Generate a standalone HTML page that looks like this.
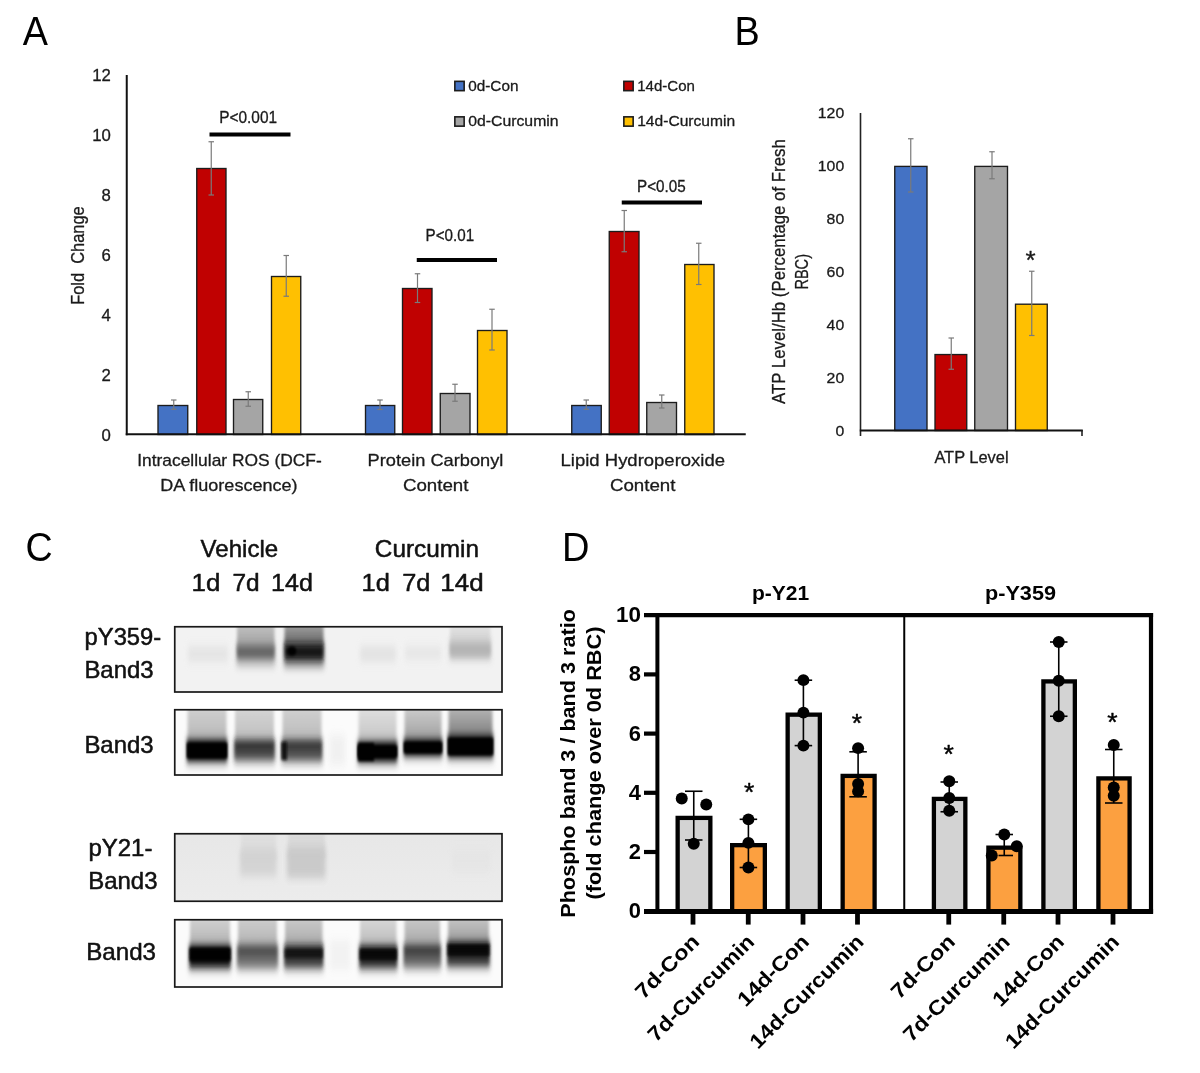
<!DOCTYPE html>
<html><head><meta charset="utf-8"><title>Figure</title>
<style>html,body{margin:0;padding:0;background:#fff;overflow:hidden;}svg{position:absolute;left:0;top:0;display:block;font-family:"Liberation Sans", sans-serif;}</style>
</head><body>
<svg width="1200" height="1073" viewBox="0 0 1200 1073">
<defs>
<filter id="b2" x="-40%" y="-80%" width="180%" height="260%"><feGaussianBlur stdDeviation="1.3 1.6"/></filter>
<filter id="b3" x="-40%" y="-80%" width="180%" height="260%"><feGaussianBlur stdDeviation="1.4 3"/></filter>
<filter id="b4" x="-40%" y="-80%" width="180%" height="260%"><feGaussianBlur stdDeviation="2 4"/></filter>
<linearGradient id="g0" x1="0" y1="0" x2="0" y2="1"><stop offset="0" stop-color="#c4c4c4" stop-opacity="1"/><stop offset="1" stop-color="#9c9c9c" stop-opacity="1"/></linearGradient>
<linearGradient id="g1" x1="0" y1="0" x2="0" y2="1"><stop offset="0" stop-color="#a6a6a6" stop-opacity="1"/><stop offset="1" stop-color="#5e5e5e" stop-opacity="1"/></linearGradient>
<linearGradient id="g2" x1="0" y1="0" x2="0" y2="1"><stop offset="0" stop-color="#e2e2e2" stop-opacity="1"/><stop offset="1" stop-color="#d0d0d0" stop-opacity="1"/></linearGradient>
<linearGradient id="g3" x1="0" y1="0" x2="0" y2="1"><stop offset="0" stop-color="#d2d2d2" stop-opacity="1"/><stop offset="1" stop-color="#b4b4b4" stop-opacity="1"/></linearGradient>
<linearGradient id="g4" x1="0" y1="0" x2="0" y2="1"><stop offset="0" stop-color="#242424" stop-opacity="1"/><stop offset="1" stop-color="#5c5c5c" stop-opacity="1"/></linearGradient>
<linearGradient id="g5" x1="0" y1="0" x2="0" y2="1"><stop offset="0" stop-color="#d6d6d6" stop-opacity="1"/><stop offset="1" stop-color="#bcbcbc" stop-opacity="1"/></linearGradient>
<linearGradient id="g6" x1="0" y1="0" x2="0" y2="1"><stop offset="0" stop-color="#2a2a2a" stop-opacity="1"/><stop offset="1" stop-color="#626262" stop-opacity="1"/></linearGradient>
<linearGradient id="g7" x1="0" y1="0" x2="0" y2="1"><stop offset="0" stop-color="#d2d2d2" stop-opacity="1"/><stop offset="1" stop-color="#b8b8b8" stop-opacity="1"/></linearGradient>
<linearGradient id="g8" x1="0" y1="0" x2="0" y2="1"><stop offset="0" stop-color="#e2e2e2" stop-opacity="1"/><stop offset="1" stop-color="#c0c0c0" stop-opacity="1"/></linearGradient>
<linearGradient id="g9" x1="0" y1="0" x2="0" y2="1"><stop offset="0" stop-color="#cfcfcf" stop-opacity="1"/><stop offset="1" stop-color="#9c9c9c" stop-opacity="1"/></linearGradient>
<linearGradient id="g10" x1="0" y1="0" x2="0" y2="1"><stop offset="0" stop-color="#b8b8b8" stop-opacity="1"/><stop offset="1" stop-color="#7c7c7c" stop-opacity="1"/></linearGradient>
<linearGradient id="g11" x1="0" y1="0" x2="0" y2="1"><stop offset="0" stop-color="#e0e0e0" stop-opacity="1"/><stop offset="1" stop-color="#d6d6d6" stop-opacity="1"/></linearGradient>
<linearGradient id="g12" x1="0" y1="0" x2="0" y2="1"><stop offset="0" stop-color="#dcdcdc" stop-opacity="1"/><stop offset="1" stop-color="#d0d0d0" stop-opacity="1"/></linearGradient>
<linearGradient id="g13" x1="0" y1="0" x2="0" y2="1"><stop offset="0" stop-color="#e7e7e7" stop-opacity="1"/><stop offset="1" stop-color="#ececec" stop-opacity="1"/></linearGradient>
<linearGradient id="g14" x1="0" y1="0" x2="0" y2="1"><stop offset="0" stop-color="#000" stop-opacity="1"/><stop offset="1" stop-color="#1e1e1e" stop-opacity="1"/></linearGradient>
<linearGradient id="g15" x1="0" y1="0" x2="0" y2="1"><stop offset="0" stop-color="#d4d4d4" stop-opacity="1"/><stop offset="1" stop-color="#b0b0b0" stop-opacity="1"/></linearGradient>
<linearGradient id="g16" x1="0" y1="0" x2="0" y2="1"><stop offset="0" stop-color="#3c3c3c" stop-opacity="1"/><stop offset="1" stop-color="#848484" stop-opacity="1"/></linearGradient>
<linearGradient id="g17" x1="0" y1="0" x2="0" y2="1"><stop offset="0" stop-color="#d0d0d0" stop-opacity="1"/><stop offset="1" stop-color="#b0b0b0" stop-opacity="1"/></linearGradient>
<linearGradient id="g18" x1="0" y1="0" x2="0" y2="1"><stop offset="0" stop-color="#141414" stop-opacity="1"/><stop offset="1" stop-color="#4a4a4a" stop-opacity="1"/></linearGradient>
<linearGradient id="g19" x1="0" y1="0" x2="0" y2="1"><stop offset="0" stop-color="#cccccc" stop-opacity="1"/><stop offset="1" stop-color="#a8a8a8" stop-opacity="1"/></linearGradient>
<linearGradient id="g20" x1="0" y1="0" x2="0" y2="1"><stop offset="0" stop-color="#080808" stop-opacity="1"/><stop offset="1" stop-color="#3a3a3a" stop-opacity="1"/></linearGradient>
<linearGradient id="g21" x1="0" y1="0" x2="0" y2="1"><stop offset="0" stop-color="#dadada" stop-opacity="1"/><stop offset="1" stop-color="#b8b8b8" stop-opacity="1"/></linearGradient>
<linearGradient id="g22" x1="0" y1="0" x2="0" y2="1"><stop offset="0" stop-color="#2a2a2a" stop-opacity="1"/><stop offset="1" stop-color="#7c7c7c" stop-opacity="1"/></linearGradient>
<linearGradient id="g23" x1="0" y1="0" x2="0" y2="1"><stop offset="0" stop-color="#cccccc" stop-opacity="1"/><stop offset="1" stop-color="#a4a4a4" stop-opacity="1"/></linearGradient>
<linearGradient id="g24" x1="0" y1="0" x2="0" y2="1"><stop offset="0" stop-color="#060606" stop-opacity="1"/><stop offset="1" stop-color="#444444" stop-opacity="1"/></linearGradient>
<linearGradient id="g25" x1="0" y1="0" x2="0" y2="1"><stop offset="0" stop-color="#c8c8c8" stop-opacity="1"/><stop offset="1" stop-color="#9a9a9a" stop-opacity="1"/></linearGradient>
</defs>
<rect x="0" y="0" width="1200" height="1073" fill="#ffffff"/>
<g opacity="0.999">
<g id="panelA">
<text x="22.7" y="45.3" font-size="39.8" text-anchor="start" fill="#000" textLength="25.2" lengthAdjust="spacingAndGlyphs" >A</text>
<text x="110.8" y="440.85" font-size="16.1" text-anchor="end" fill="#1a1a1a" textLength="9.3" lengthAdjust="spacingAndGlyphs" stroke="#1a1a1a" stroke-width="0.3" stroke-linejoin="round" >0</text>
<text x="110.8" y="380.89" font-size="16.1" text-anchor="end" fill="#1a1a1a" textLength="9.3" lengthAdjust="spacingAndGlyphs" stroke="#1a1a1a" stroke-width="0.3" stroke-linejoin="round" >2</text>
<text x="110.8" y="320.93" font-size="16.1" text-anchor="end" fill="#1a1a1a" textLength="9.3" lengthAdjust="spacingAndGlyphs" stroke="#1a1a1a" stroke-width="0.3" stroke-linejoin="round" >4</text>
<text x="110.8" y="260.97" font-size="16.1" text-anchor="end" fill="#1a1a1a" textLength="9.3" lengthAdjust="spacingAndGlyphs" stroke="#1a1a1a" stroke-width="0.3" stroke-linejoin="round" >6</text>
<text x="110.8" y="201.01" font-size="16.1" text-anchor="end" fill="#1a1a1a" textLength="9.3" lengthAdjust="spacingAndGlyphs" stroke="#1a1a1a" stroke-width="0.3" stroke-linejoin="round" >8</text>
<text x="110.8" y="141.05" font-size="16.1" text-anchor="end" fill="#1a1a1a" textLength="18.6" lengthAdjust="spacingAndGlyphs" stroke="#1a1a1a" stroke-width="0.3" stroke-linejoin="round" >10</text>
<text x="110.8" y="81.09" font-size="16.1" text-anchor="end" fill="#1a1a1a" textLength="18.6" lengthAdjust="spacingAndGlyphs" stroke="#1a1a1a" stroke-width="0.3" stroke-linejoin="round" >12</text>
<text x="83.6" y="255.6" font-size="17.5" text-anchor="middle" fill="#1a1a1a" textLength="98.5" lengthAdjust="spacingAndGlyphs" transform="rotate(-90 83.6 255.6)" stroke="#1a1a1a" stroke-width="0.3" stroke-linejoin="round" >Fold  Change</text>
<rect x="158.0" y="405.5" width="29.75" height="29.0" fill="#4472C4" stroke="#1c1c1c" stroke-width="1.35" />
<rect x="196.75" y="168.5" width="29.25" height="266.0" fill="#C00000" stroke="#1c1c1c" stroke-width="1.35" />
<rect x="233.5" y="399.5" width="29.25" height="35.0" fill="#A5A5A5" stroke="#1c1c1c" stroke-width="1.35" />
<rect x="271.5" y="276.5" width="29.25" height="158.0" fill="#FFC000" stroke="#1c1c1c" stroke-width="1.35" />
<rect x="365.5" y="405.5" width="29.25" height="29.0" fill="#4472C4" stroke="#1c1c1c" stroke-width="1.35" />
<rect x="402.5" y="288.5" width="29.5" height="146.0" fill="#C00000" stroke="#1c1c1c" stroke-width="1.35" />
<rect x="440.25" y="393.5" width="29.75" height="41.0" fill="#A5A5A5" stroke="#1c1c1c" stroke-width="1.35" />
<rect x="477.5" y="330.5" width="29.5" height="104.0" fill="#FFC000" stroke="#1c1c1c" stroke-width="1.35" />
<rect x="571.75" y="405.5" width="29.5" height="29.0" fill="#4472C4" stroke="#1c1c1c" stroke-width="1.35" />
<rect x="609.25" y="231.5" width="29.75" height="203.0" fill="#C00000" stroke="#1c1c1c" stroke-width="1.35" />
<rect x="646.75" y="402.5" width="29.75" height="32.0" fill="#A5A5A5" stroke="#1c1c1c" stroke-width="1.35" />
<rect x="684.75" y="264.5" width="29.25" height="170.0" fill="#FFC000" stroke="#1c1c1c" stroke-width="1.35" />
<line x1="173.75" y1="400" x2="173.75" y2="409.25" stroke="#7a7a7a" stroke-width="1.2" stroke-linecap="butt"/>
<line x1="171.0" y1="400" x2="176.5" y2="400" stroke="#7a7a7a" stroke-width="1.2" stroke-linecap="butt"/>
<line x1="171.0" y1="409.25" x2="176.5" y2="409.25" stroke="#7a7a7a" stroke-width="1.2" stroke-linecap="butt"/>
<line x1="211.25" y1="141.75" x2="211.25" y2="195" stroke="#7a7a7a" stroke-width="1.2" stroke-linecap="butt"/>
<line x1="208.5" y1="141.75" x2="214.0" y2="141.75" stroke="#7a7a7a" stroke-width="1.2" stroke-linecap="butt"/>
<line x1="208.5" y1="195" x2="214.0" y2="195" stroke="#7a7a7a" stroke-width="1.2" stroke-linecap="butt"/>
<line x1="248.25" y1="391.75" x2="248.25" y2="406.25" stroke="#7a7a7a" stroke-width="1.2" stroke-linecap="butt"/>
<line x1="245.5" y1="391.75" x2="251.0" y2="391.75" stroke="#7a7a7a" stroke-width="1.2" stroke-linecap="butt"/>
<line x1="245.5" y1="406.25" x2="251.0" y2="406.25" stroke="#7a7a7a" stroke-width="1.2" stroke-linecap="butt"/>
<line x1="286.25" y1="255.5" x2="286.25" y2="296.25" stroke="#7a7a7a" stroke-width="1.2" stroke-linecap="butt"/>
<line x1="283.5" y1="255.5" x2="289.0" y2="255.5" stroke="#7a7a7a" stroke-width="1.2" stroke-linecap="butt"/>
<line x1="283.5" y1="296.25" x2="289.0" y2="296.25" stroke="#7a7a7a" stroke-width="1.2" stroke-linecap="butt"/>
<line x1="380" y1="400" x2="380" y2="409.5" stroke="#7a7a7a" stroke-width="1.2" stroke-linecap="butt"/>
<line x1="377.25" y1="400" x2="382.75" y2="400" stroke="#7a7a7a" stroke-width="1.2" stroke-linecap="butt"/>
<line x1="377.25" y1="409.5" x2="382.75" y2="409.5" stroke="#7a7a7a" stroke-width="1.2" stroke-linecap="butt"/>
<line x1="417.5" y1="273.75" x2="417.5" y2="302.5" stroke="#7a7a7a" stroke-width="1.2" stroke-linecap="butt"/>
<line x1="414.75" y1="273.75" x2="420.25" y2="273.75" stroke="#7a7a7a" stroke-width="1.2" stroke-linecap="butt"/>
<line x1="414.75" y1="302.5" x2="420.25" y2="302.5" stroke="#7a7a7a" stroke-width="1.2" stroke-linecap="butt"/>
<line x1="455" y1="384.25" x2="455" y2="401.25" stroke="#7a7a7a" stroke-width="1.2" stroke-linecap="butt"/>
<line x1="452.25" y1="384.25" x2="457.75" y2="384.25" stroke="#7a7a7a" stroke-width="1.2" stroke-linecap="butt"/>
<line x1="452.25" y1="401.25" x2="457.75" y2="401.25" stroke="#7a7a7a" stroke-width="1.2" stroke-linecap="butt"/>
<line x1="492" y1="309.25" x2="492" y2="350" stroke="#7a7a7a" stroke-width="1.2" stroke-linecap="butt"/>
<line x1="489.25" y1="309.25" x2="494.75" y2="309.25" stroke="#7a7a7a" stroke-width="1.2" stroke-linecap="butt"/>
<line x1="489.25" y1="350" x2="494.75" y2="350" stroke="#7a7a7a" stroke-width="1.2" stroke-linecap="butt"/>
<line x1="586.25" y1="400" x2="586.25" y2="409.25" stroke="#7a7a7a" stroke-width="1.2" stroke-linecap="butt"/>
<line x1="583.5" y1="400" x2="589.0" y2="400" stroke="#7a7a7a" stroke-width="1.2" stroke-linecap="butt"/>
<line x1="583.5" y1="409.25" x2="589.0" y2="409.25" stroke="#7a7a7a" stroke-width="1.2" stroke-linecap="butt"/>
<line x1="624.25" y1="210.5" x2="624.25" y2="251.75" stroke="#7a7a7a" stroke-width="1.2" stroke-linecap="butt"/>
<line x1="621.5" y1="210.5" x2="627.0" y2="210.5" stroke="#7a7a7a" stroke-width="1.2" stroke-linecap="butt"/>
<line x1="621.5" y1="251.75" x2="627.0" y2="251.75" stroke="#7a7a7a" stroke-width="1.2" stroke-linecap="butt"/>
<line x1="661.75" y1="395" x2="661.75" y2="408" stroke="#7a7a7a" stroke-width="1.2" stroke-linecap="butt"/>
<line x1="659.0" y1="395" x2="664.5" y2="395" stroke="#7a7a7a" stroke-width="1.2" stroke-linecap="butt"/>
<line x1="659.0" y1="408" x2="664.5" y2="408" stroke="#7a7a7a" stroke-width="1.2" stroke-linecap="butt"/>
<line x1="698.75" y1="243.25" x2="698.75" y2="284.5" stroke="#7a7a7a" stroke-width="1.2" stroke-linecap="butt"/>
<line x1="696.0" y1="243.25" x2="701.5" y2="243.25" stroke="#7a7a7a" stroke-width="1.2" stroke-linecap="butt"/>
<line x1="696.0" y1="284.5" x2="701.5" y2="284.5" stroke="#7a7a7a" stroke-width="1.2" stroke-linecap="butt"/>
<line x1="126.75" y1="75" x2="126.75" y2="435.25" stroke="#111" stroke-width="2" stroke-linecap="butt"/>
<line x1="125.75" y1="434.25" x2="745.75" y2="434.25" stroke="#111" stroke-width="2" stroke-linecap="butt"/>
<text x="219.2" y="123.2" font-size="15.9" text-anchor="start" fill="#1a1a1a" textLength="57.9" lengthAdjust="spacingAndGlyphs" stroke="#1a1a1a" stroke-width="0.3" stroke-linejoin="round" >P&lt;0.001</text>
<line x1="209.5" y1="134.5" x2="290.5" y2="134.5" stroke="#000" stroke-width="4" stroke-linecap="butt"/>
<text x="425.6" y="240.9" font-size="15.9" text-anchor="start" fill="#1a1a1a" textLength="48.6" lengthAdjust="spacingAndGlyphs" stroke="#1a1a1a" stroke-width="0.3" stroke-linejoin="round" >P&lt;0.01</text>
<line x1="416.75" y1="260.1" x2="497" y2="260.1" stroke="#000" stroke-width="4" stroke-linecap="butt"/>
<text x="637.0" y="191.9" font-size="15.9" text-anchor="start" fill="#1a1a1a" textLength="48.7" lengthAdjust="spacingAndGlyphs" stroke="#1a1a1a" stroke-width="0.3" stroke-linejoin="round" >P&lt;0.05</text>
<line x1="621.75" y1="202.6" x2="702" y2="202.6" stroke="#000" stroke-width="4" stroke-linecap="butt"/>
<rect x="454.85" y="81.35" width="9.3" height="9.3" fill="#4472C4" stroke="#1c1c1c" stroke-width="1.6" />
<text x="468.2" y="90.85" font-size="15.4" text-anchor="start" fill="#1a1a1a" textLength="50.3" lengthAdjust="spacingAndGlyphs" stroke="#1a1a1a" stroke-width="0.3" stroke-linejoin="round" >0d-Con</text>
<rect x="454.85" y="116.85" width="9.3" height="9.3" fill="#A5A5A5" stroke="#1c1c1c" stroke-width="1.6" />
<text x="468.2" y="126.35" font-size="15.4" text-anchor="start" fill="#1a1a1a" textLength="90.4" lengthAdjust="spacingAndGlyphs" stroke="#1a1a1a" stroke-width="0.3" stroke-linejoin="round" >0d-Curcumin</text>
<rect x="623.85" y="81.35" width="9.3" height="9.3" fill="#C00000" stroke="#1c1c1c" stroke-width="1.6" />
<text x="637.2" y="90.85" font-size="15.4" text-anchor="start" fill="#1a1a1a" textLength="57.8" lengthAdjust="spacingAndGlyphs" stroke="#1a1a1a" stroke-width="0.3" stroke-linejoin="round" >14d-Con</text>
<rect x="623.85" y="116.85" width="9.3" height="9.3" fill="#FFC000" stroke="#1c1c1c" stroke-width="1.6" />
<text x="637.2" y="126.35" font-size="15.4" text-anchor="start" fill="#1a1a1a" textLength="97.9" lengthAdjust="spacingAndGlyphs" stroke="#1a1a1a" stroke-width="0.3" stroke-linejoin="round" >14d-Curcumin</text>
<text x="137.2" y="466.3" font-size="17.0" text-anchor="start" fill="#1a1a1a" textLength="184.6" lengthAdjust="spacingAndGlyphs" stroke="#1a1a1a" stroke-width="0.3" stroke-linejoin="round" >Intracellular ROS (DCF-</text>
<text x="160.2" y="491" font-size="17.0" text-anchor="start" fill="#1a1a1a" textLength="137.4" lengthAdjust="spacingAndGlyphs" stroke="#1a1a1a" stroke-width="0.3" stroke-linejoin="round" >DA fluorescence)</text>
<text x="367.6" y="466.3" font-size="17.0" text-anchor="start" fill="#1a1a1a" textLength="135.8" lengthAdjust="spacingAndGlyphs" stroke="#1a1a1a" stroke-width="0.3" stroke-linejoin="round" >Protein Carbonyl</text>
<text x="402.9" y="491.2" font-size="17.0" text-anchor="start" fill="#1a1a1a" textLength="65.6" lengthAdjust="spacingAndGlyphs" stroke="#1a1a1a" stroke-width="0.3" stroke-linejoin="round" >Content</text>
<text x="560.6" y="466.3" font-size="17.0" text-anchor="start" fill="#1a1a1a" textLength="164.4" lengthAdjust="spacingAndGlyphs" stroke="#1a1a1a" stroke-width="0.3" stroke-linejoin="round" >Lipid Hydroperoxide</text>
<text x="609.9" y="491.2" font-size="17.0" text-anchor="start" fill="#1a1a1a" textLength="65.6" lengthAdjust="spacingAndGlyphs" stroke="#1a1a1a" stroke-width="0.3" stroke-linejoin="round" >Content</text>
</g>
<g id="panelB">
<text x="734.6" y="45.3" font-size="39.8" text-anchor="start" fill="#000" textLength="25.2" lengthAdjust="spacingAndGlyphs" >B</text>
<text x="844.2" y="436.2" font-size="15.4" text-anchor="end" fill="#1a1a1a" textLength="8.8" lengthAdjust="spacingAndGlyphs" stroke="#1a1a1a" stroke-width="0.3" stroke-linejoin="round" >0</text>
<text x="844.2" y="383.2" font-size="15.4" text-anchor="end" fill="#1a1a1a" textLength="17.6" lengthAdjust="spacingAndGlyphs" stroke="#1a1a1a" stroke-width="0.3" stroke-linejoin="round" >20</text>
<text x="844.2" y="330.2" font-size="15.4" text-anchor="end" fill="#1a1a1a" textLength="17.6" lengthAdjust="spacingAndGlyphs" stroke="#1a1a1a" stroke-width="0.3" stroke-linejoin="round" >40</text>
<text x="844.2" y="277.2" font-size="15.4" text-anchor="end" fill="#1a1a1a" textLength="17.6" lengthAdjust="spacingAndGlyphs" stroke="#1a1a1a" stroke-width="0.3" stroke-linejoin="round" >60</text>
<text x="844.2" y="224.2" font-size="15.4" text-anchor="end" fill="#1a1a1a" textLength="17.6" lengthAdjust="spacingAndGlyphs" stroke="#1a1a1a" stroke-width="0.3" stroke-linejoin="round" >80</text>
<text x="844.2" y="171.2" font-size="15.4" text-anchor="end" fill="#1a1a1a" textLength="26.4" lengthAdjust="spacingAndGlyphs" stroke="#1a1a1a" stroke-width="0.3" stroke-linejoin="round" >100</text>
<text x="844.2" y="118.2" font-size="15.4" text-anchor="end" fill="#1a1a1a" textLength="26.4" lengthAdjust="spacingAndGlyphs" stroke="#1a1a1a" stroke-width="0.3" stroke-linejoin="round" >120</text>
<rect x="894.75" y="166.4" width="32.25" height="264.1" fill="#4472C4" stroke="#1c1c1c" stroke-width="1.35" />
<rect x="935.0" y="354.55" width="31.75" height="75.95" fill="#C00000" stroke="#1c1c1c" stroke-width="1.35" />
<rect x="974.75" y="166.4" width="32.75" height="264.1" fill="#A5A5A5" stroke="#1c1c1c" stroke-width="1.35" />
<rect x="1015.5" y="304.2" width="31.75" height="126.3" fill="#FFC000" stroke="#1c1c1c" stroke-width="1.35" />
<line x1="910.75" y1="138.75" x2="910.75" y2="192" stroke="#7a7a7a" stroke-width="1.2" stroke-linecap="butt"/>
<line x1="908.0" y1="138.75" x2="913.5" y2="138.75" stroke="#7a7a7a" stroke-width="1.2" stroke-linecap="butt"/>
<line x1="908.0" y1="192" x2="913.5" y2="192" stroke="#7a7a7a" stroke-width="1.2" stroke-linecap="butt"/>
<line x1="951.25" y1="338" x2="951.25" y2="369.25" stroke="#7a7a7a" stroke-width="1.2" stroke-linecap="butt"/>
<line x1="948.5" y1="338" x2="954.0" y2="338" stroke="#7a7a7a" stroke-width="1.2" stroke-linecap="butt"/>
<line x1="948.5" y1="369.25" x2="954.0" y2="369.25" stroke="#7a7a7a" stroke-width="1.2" stroke-linecap="butt"/>
<line x1="992" y1="151.75" x2="992" y2="178.75" stroke="#7a7a7a" stroke-width="1.2" stroke-linecap="butt"/>
<line x1="989.25" y1="151.75" x2="994.75" y2="151.75" stroke="#7a7a7a" stroke-width="1.2" stroke-linecap="butt"/>
<line x1="989.25" y1="178.75" x2="994.75" y2="178.75" stroke="#7a7a7a" stroke-width="1.2" stroke-linecap="butt"/>
<line x1="1031.75" y1="271.25" x2="1031.75" y2="335.5" stroke="#7a7a7a" stroke-width="1.2" stroke-linecap="butt"/>
<line x1="1029.0" y1="271.25" x2="1034.5" y2="271.25" stroke="#7a7a7a" stroke-width="1.2" stroke-linecap="butt"/>
<line x1="1029.0" y1="335.5" x2="1034.5" y2="335.5" stroke="#7a7a7a" stroke-width="1.2" stroke-linecap="butt"/>
<line x1="860.5" y1="113" x2="860.5" y2="436" stroke="#222" stroke-width="1.6" stroke-linecap="butt"/>
<line x1="859.8" y1="430.5" x2="1082.8" y2="430.5" stroke="#111" stroke-width="2" stroke-linecap="butt"/>
<line x1="1082" y1="430" x2="1082" y2="436" stroke="#222" stroke-width="1.6" stroke-linecap="butt"/>
<text x="1030.6" y="269.4" font-size="26" text-anchor="middle" fill="#1a1a1a" stroke="#1a1a1a" stroke-width="0.3" stroke-linejoin="round" >*</text>
<text x="934.4" y="463.3" font-size="16.4" text-anchor="start" fill="#1a1a1a" textLength="74.2" lengthAdjust="spacingAndGlyphs" stroke="#1a1a1a" stroke-width="0.3" stroke-linejoin="round" >ATP Level</text>
<text x="784.8" y="271.6" font-size="18.3" text-anchor="middle" fill="#1a1a1a" textLength="264.8" lengthAdjust="spacingAndGlyphs" transform="rotate(-90 784.8 271.6)" stroke="#1a1a1a" stroke-width="0.3" stroke-linejoin="round" >ATP Level/Hb (Percentage of Fresh</text>
<text x="808.2" y="271.8" font-size="18.3" text-anchor="middle" fill="#1a1a1a" textLength="35.6" lengthAdjust="spacingAndGlyphs" transform="rotate(-90 808.2 271.8)" stroke="#1a1a1a" stroke-width="0.3" stroke-linejoin="round" >RBC)</text>
</g>
<g id="panelC">
<text x="25.4" y="560.6" font-size="39.8" text-anchor="start" fill="#000" textLength="27.15" lengthAdjust="spacingAndGlyphs" >C</text>
<text x="200.6" y="557" font-size="23.8" text-anchor="start" fill="#111" textLength="77.6" lengthAdjust="spacingAndGlyphs" stroke="#111" stroke-width="0.5" stroke-linejoin="round" >Vehicle</text>
<text x="374.8" y="557" font-size="23.8" text-anchor="start" fill="#111" textLength="104.2" lengthAdjust="spacingAndGlyphs" stroke="#111" stroke-width="0.5" stroke-linejoin="round" >Curcumin</text>
<text x="191.55" y="590.6" font-size="24.4" text-anchor="start" fill="#111" textLength="28.8" lengthAdjust="spacingAndGlyphs" stroke="#111" stroke-width="0.5" stroke-linejoin="round" >1d</text>
<text x="232.45" y="590.6" font-size="24.4" text-anchor="start" fill="#111" textLength="27.15" lengthAdjust="spacingAndGlyphs" stroke="#111" stroke-width="0.5" stroke-linejoin="round" >7d</text>
<text x="271.05" y="590.6" font-size="24.4" text-anchor="start" fill="#111" textLength="41.8" lengthAdjust="spacingAndGlyphs" stroke="#111" stroke-width="0.5" stroke-linejoin="round" >14d</text>
<text x="361.55" y="590.6" font-size="24.4" text-anchor="start" fill="#111" textLength="28.3" lengthAdjust="spacingAndGlyphs" stroke="#111" stroke-width="0.5" stroke-linejoin="round" >1d</text>
<text x="402.2" y="590.6" font-size="24.4" text-anchor="start" fill="#111" textLength="28.15" lengthAdjust="spacingAndGlyphs" stroke="#111" stroke-width="0.5" stroke-linejoin="round" >7d</text>
<text x="440.3" y="590.6" font-size="24.4" text-anchor="start" fill="#111" textLength="43.3" lengthAdjust="spacingAndGlyphs" stroke="#111" stroke-width="0.5" stroke-linejoin="round" >14d</text>
<text x="84.6" y="645" font-size="23.4" text-anchor="start" fill="#111" textLength="76.6" lengthAdjust="spacingAndGlyphs" stroke="#111" stroke-width="0.5" stroke-linejoin="round" >pY359-</text>
<text x="84.4" y="677.5" font-size="23.4" text-anchor="start" fill="#111" textLength="69.3" lengthAdjust="spacingAndGlyphs" stroke="#111" stroke-width="0.5" stroke-linejoin="round" >Band3</text>
<text x="84.4" y="752.5" font-size="23.4" text-anchor="start" fill="#111" textLength="69.3" lengthAdjust="spacingAndGlyphs" stroke="#111" stroke-width="0.5" stroke-linejoin="round" >Band3</text>
<text x="88.4" y="856.25" font-size="23.4" text-anchor="start" fill="#111" textLength="64.0" lengthAdjust="spacingAndGlyphs" stroke="#111" stroke-width="0.5" stroke-linejoin="round" >pY21-</text>
<text x="88.2" y="888.75" font-size="23.4" text-anchor="start" fill="#111" textLength="69.3" lengthAdjust="spacingAndGlyphs" stroke="#111" stroke-width="0.5" stroke-linejoin="round" >Band3</text>
<text x="86.2" y="960" font-size="23.4" text-anchor="start" fill="#111" textLength="69.8" lengthAdjust="spacingAndGlyphs" stroke="#111" stroke-width="0.5" stroke-linejoin="round" >Band3</text>
<clipPath id="clip1"><rect x="174.25" y="626.25" width="328.25" height="66.25"/></clipPath>
<g clip-path="url(#clip1)">
<rect x="174.25" y="626.25" width="328.25" height="66.25" fill="#f2f2f2" />
<rect x="188" y="646" width="40" height="16" fill="#e2e2e2" opacity="0.8" filter="url(#b4)"/>
<rect x="237" y="622" width="37.5" height="28" fill="url(#g0)" opacity="1" filter="url(#b3)"/>
<rect x="236.5" y="644" width="38.5" height="22" fill="#8a8a8a" opacity="0.6" filter="url(#b4)"/>
<rect x="237" y="646" width="37.5" height="12.5" fill="#666" opacity="1" filter="url(#b3)"/>
<rect x="284.5" y="622" width="39.0" height="26" fill="url(#g1)" opacity="1" filter="url(#b3)"/>
<rect x="284" y="642" width="40" height="25" fill="#555" opacity="0.7" filter="url(#b4)"/>
<rect x="284.5" y="644.5" width="39.0" height="15.0" fill="#151515" opacity="1" filter="url(#b3)"/>
<rect x="360" y="646" width="36" height="16" fill="#e0e0e0" opacity="0.8" filter="url(#b4)"/>
<rect x="405" y="646" width="36" height="14" fill="#e4e4e4" opacity="0.8" filter="url(#b4)"/>
<rect x="450" y="624" width="40.5" height="22" fill="url(#g2)" opacity="1" filter="url(#b3)"/>
<rect x="449.5" y="641" width="41.5" height="19" fill="#c4c4c4" opacity="0.9" filter="url(#b4)"/>
<rect x="450" y="643.5" width="40.5" height="12.5" fill="#b4b4b4" opacity="1" filter="url(#b3)"/>
</g>
<rect x="174.75" y="626.75" width="327.25" height="65.25" fill="none" stroke="#181818" stroke-width="1.7"/>
<circle cx="291.8" cy="651" r="4.6" fill="#000" filter="url(#b2)"/>
<clipPath id="clip2"><rect x="174.25" y="709.25" width="328.25" height="66.25"/></clipPath>
<g clip-path="url(#clip2)">
<rect x="174.25" y="709.25" width="328.25" height="66.25" fill="#fbfbfb" />
<rect x="187.5" y="705.25" width="39.0" height="38.25" fill="url(#g3)" opacity="1" filter="url(#b3)"/>
<rect x="186.5" y="737.5" width="41.0" height="28.0" fill="#666" opacity="0.55" filter="url(#b4)"/>
<rect x="187.0" y="740.5" width="40.0" height="20.0" fill="#000" opacity="1" filter="url(#b3)"/>
<rect x="187" y="743" width="40" height="15" fill="#000" opacity="1" filter="url(#b2)"/>
<rect x="235" y="705.25" width="39" height="38.75" fill="url(#g5)" opacity="1" filter="url(#b3)"/>
<rect x="234" y="738" width="41" height="26" fill="#666" opacity="0.55" filter="url(#b4)"/>
<rect x="234.5" y="741" width="40.0" height="18" fill="url(#g4)" opacity="1" filter="url(#b3)"/>
<rect x="282.5" y="705.25" width="39.0" height="38.75" fill="url(#g7)" opacity="1" filter="url(#b3)"/>
<rect x="281.5" y="738" width="41.0" height="26.5" fill="#666" opacity="0.55" filter="url(#b4)"/>
<rect x="282.0" y="741" width="40.0" height="18.5" fill="url(#g6)" opacity="1" filter="url(#b3)"/>
<rect x="281.5" y="742" width="5.5" height="18" fill="#0a0a0a" opacity="0.9" filter="url(#b2)"/>
<rect x="330" y="735" width="15" height="30" fill="#eeeeee" opacity="0.8" filter="url(#b4)"/>
<rect x="358.5" y="705.25" width="38.0" height="40.25" fill="url(#g8)" opacity="1" filter="url(#b3)"/>
<rect x="357.5" y="739.5" width="40.0" height="26.5" fill="#666" opacity="0.55" filter="url(#b4)"/>
<rect x="358.0" y="742.5" width="39.0" height="18.5" fill="#000" opacity="1" filter="url(#b3)"/>
<rect x="358" y="743" width="16" height="18" fill="#000" opacity="1" filter="url(#b2)"/>
<rect x="358" y="746" width="39" height="11" fill="#000" opacity="1" filter="url(#b2)"/>
<rect x="404.5" y="705.25" width="37.0" height="37.75" fill="url(#g9)" opacity="1" filter="url(#b3)"/>
<rect x="403.5" y="737" width="39.0" height="23" fill="#666" opacity="0.55" filter="url(#b4)"/>
<rect x="404.0" y="740" width="38.0" height="15" fill="#000" opacity="1" filter="url(#b3)"/>
<rect x="404" y="742" width="38" height="11" fill="#000" opacity="1" filter="url(#b2)"/>
<rect x="448.5" y="705.25" width="44.0" height="33.75" fill="url(#g10)" opacity="1" filter="url(#b3)"/>
<rect x="447.5" y="733" width="46.0" height="28.5" fill="#666" opacity="0.55" filter="url(#b4)"/>
<rect x="448.0" y="736" width="45.0" height="20.5" fill="#000" opacity="1" filter="url(#b3)"/>
<rect x="448" y="738" width="45" height="17" fill="#000" opacity="1" filter="url(#b2)"/>
</g>
<rect x="174.75" y="709.75" width="327.25" height="65.25" fill="none" stroke="#181818" stroke-width="1.7"/>
<clipPath id="clip3"><rect x="174.25" y="833.25" width="328.25" height="68.5"/></clipPath>
<g clip-path="url(#clip3)">
<rect x="174.25" y="833.25" width="328.25" height="68.5" fill="url(#g13)" />
<rect x="241" y="829" width="35" height="31" fill="url(#g11)" opacity="0.9" filter="url(#b3)"/>
<rect x="288" y="829" width="37" height="29" fill="url(#g12)" opacity="0.9" filter="url(#b3)"/>
<rect x="240" y="850" width="36.5" height="26" fill="#d2d2d2" opacity="0.9" filter="url(#b4)"/>
<rect x="287" y="848" width="38.5" height="30" fill="#c9c9c9" opacity="0.95" filter="url(#b4)"/>
<rect x="452" y="850" width="38" height="22" fill="#e3e3e3" opacity="0.6" filter="url(#b4)"/>
</g>
<rect x="174.75" y="833.75" width="327.25" height="67.5" fill="none" stroke="#181818" stroke-width="1.7"/>
<clipPath id="clip4"><rect x="174.25" y="919.25" width="328.25" height="68.25"/></clipPath>
<g clip-path="url(#clip4)">
<rect x="174.25" y="919.25" width="328.25" height="68.25" fill="#fbfbfb" />
<rect x="190" y="915.25" width="40" height="33.75" fill="url(#g15)" opacity="1" filter="url(#b3)"/>
<rect x="189" y="943" width="42" height="29" fill="#666" opacity="0.55" filter="url(#b4)"/>
<rect x="189.5" y="946" width="41.0" height="21" fill="url(#g14)" opacity="1" filter="url(#b3)"/>
<rect x="189.5" y="948" width="41.0" height="13" fill="#000" opacity="0.9" filter="url(#b2)"/>
<rect x="238" y="915.25" width="39" height="34.25" fill="url(#g17)" opacity="1" filter="url(#b3)"/>
<rect x="237" y="943.5" width="41" height="27.5" fill="#666" opacity="0.55" filter="url(#b4)"/>
<rect x="237.5" y="946.5" width="40.0" height="19.5" fill="url(#g16)" opacity="1" filter="url(#b3)"/>
<rect x="285" y="915.25" width="37.5" height="33.75" fill="url(#g19)" opacity="1" filter="url(#b3)"/>
<rect x="284" y="943" width="39.5" height="28.5" fill="#666" opacity="0.55" filter="url(#b4)"/>
<rect x="284.5" y="946" width="38.5" height="20.5" fill="url(#g18)" opacity="1" filter="url(#b3)"/>
<rect x="284.5" y="949" width="38.5" height="9" fill="#000" opacity="0.5" filter="url(#b2)"/>
<rect x="330" y="940" width="20" height="30" fill="#f0f0f0" opacity="0.8" filter="url(#b4)"/>
<rect x="360" y="915.25" width="36.5" height="34.25" fill="url(#g21)" opacity="1" filter="url(#b3)"/>
<rect x="359" y="943.5" width="38.5" height="28.5" fill="#666" opacity="0.55" filter="url(#b4)"/>
<rect x="359.5" y="946.5" width="37.5" height="20.5" fill="url(#g20)" opacity="1" filter="url(#b3)"/>
<rect x="359.5" y="949" width="37.5" height="11" fill="#000" opacity="0.7" filter="url(#b2)"/>
<rect x="404.5" y="915.25" width="35.5" height="33.75" fill="url(#g23)" opacity="1" filter="url(#b3)"/>
<rect x="403.5" y="943" width="37.5" height="27.5" fill="#666" opacity="0.55" filter="url(#b4)"/>
<rect x="404.0" y="946" width="36.5" height="19.5" fill="url(#g22)" opacity="1" filter="url(#b3)"/>
<rect x="448" y="915.25" width="41" height="30.25" fill="url(#g25)" opacity="1" filter="url(#b3)"/>
<rect x="447" y="939.5" width="43" height="30.5" fill="#666" opacity="0.55" filter="url(#b4)"/>
<rect x="447.5" y="942.5" width="42.0" height="22.5" fill="url(#g24)" opacity="1" filter="url(#b3)"/>
<rect x="447.5" y="944" width="42.0" height="12" fill="#000" opacity="0.7" filter="url(#b2)"/>
</g>
<rect x="174.75" y="919.75" width="327.25" height="67.25" fill="none" stroke="#181818" stroke-width="1.7"/>
</g>
<g id="panelD">
<text x="561.9" y="561.0" font-size="39.8" text-anchor="start" fill="#000" textLength="27.5" lengthAdjust="spacingAndGlyphs" >D</text>
<rect x="677.65" y="817.9" width="32.7" height="93.3" fill="#d3d3d3" stroke="#000" stroke-width="4.3" />
<rect x="732.15" y="845.15" width="32.7" height="66.05" fill="#FCA040" stroke="#000" stroke-width="4.3" />
<rect x="787.65" y="714.65" width="32.2" height="196.55" fill="#d3d3d3" stroke="#000" stroke-width="4.3" />
<rect x="842.65" y="775.9" width="31.95" height="135.3" fill="#FCA040" stroke="#000" stroke-width="4.3" />
<rect x="933.9" y="798.9" width="31.45" height="112.3" fill="#d3d3d3" stroke="#000" stroke-width="4.3" />
<rect x="988.4" y="847.65" width="31.95" height="63.55" fill="#FCA040" stroke="#000" stroke-width="4.3" />
<rect x="1043.4" y="681.4" width="31.45" height="229.8" fill="#d3d3d3" stroke="#000" stroke-width="4.3" />
<rect x="1098.4" y="778.4" width="31.2" height="132.8" fill="#FCA040" stroke="#000" stroke-width="4.3" />
<line x1="904.25" y1="615" x2="904.25" y2="911" stroke="#000" stroke-width="2" stroke-linecap="butt"/>
<line x1="657.4" y1="613.1" x2="657.4" y2="913.5" stroke="#000" stroke-width="4" stroke-linecap="butt"/>
<line x1="1151" y1="613.1" x2="1151" y2="913.5" stroke="#000" stroke-width="4.2" stroke-linecap="butt"/>
<line x1="644" y1="615.2" x2="1153.1" y2="615.2" stroke="#000" stroke-width="4.2" stroke-linecap="butt"/>
<line x1="644" y1="911.4" x2="1153.1" y2="911.4" stroke="#000" stroke-width="5" stroke-linecap="butt"/>
<line x1="644" y1="852.0" x2="656" y2="852.0" stroke="#000" stroke-width="4.2" stroke-linecap="butt"/>
<line x1="644" y1="792.8" x2="656" y2="792.8" stroke="#000" stroke-width="4.2" stroke-linecap="butt"/>
<line x1="644" y1="733.6" x2="656" y2="733.6" stroke="#000" stroke-width="4.2" stroke-linecap="butt"/>
<line x1="644" y1="674.4" x2="656" y2="674.4" stroke="#000" stroke-width="4.2" stroke-linecap="butt"/>
<text x="640.9" y="918.1" font-size="21.6" text-anchor="end" fill="#000" font-weight="bold" textLength="12.2" lengthAdjust="spacingAndGlyphs" >0</text>
<text x="640.9" y="858.9" font-size="21.6" text-anchor="end" fill="#000" font-weight="bold" textLength="12.2" lengthAdjust="spacingAndGlyphs" >2</text>
<text x="640.9" y="799.7" font-size="21.6" text-anchor="end" fill="#000" font-weight="bold" textLength="12.2" lengthAdjust="spacingAndGlyphs" >4</text>
<text x="640.9" y="740.5" font-size="21.6" text-anchor="end" fill="#000" font-weight="bold" textLength="12.2" lengthAdjust="spacingAndGlyphs" >6</text>
<text x="640.9" y="681.3" font-size="21.6" text-anchor="end" fill="#000" font-weight="bold" textLength="12.2" lengthAdjust="spacingAndGlyphs" >8</text>
<text x="640.9" y="622.1" font-size="21.6" text-anchor="end" fill="#000" font-weight="bold" textLength="25.0" lengthAdjust="spacingAndGlyphs" >10</text>
<line x1="693" y1="911" x2="693" y2="924.6" stroke="#000" stroke-width="4.8" stroke-linecap="butt"/>
<line x1="748.25" y1="911" x2="748.25" y2="924.6" stroke="#000" stroke-width="4.8" stroke-linecap="butt"/>
<line x1="803" y1="911" x2="803" y2="924.6" stroke="#000" stroke-width="4.8" stroke-linecap="butt"/>
<line x1="857.5" y1="911" x2="857.5" y2="924.6" stroke="#000" stroke-width="4.8" stroke-linecap="butt"/>
<line x1="948.75" y1="911" x2="948.75" y2="924.6" stroke="#000" stroke-width="4.8" stroke-linecap="butt"/>
<line x1="1003.75" y1="911" x2="1003.75" y2="924.6" stroke="#000" stroke-width="4.8" stroke-linecap="butt"/>
<line x1="1058" y1="911" x2="1058" y2="924.6" stroke="#000" stroke-width="4.8" stroke-linecap="butt"/>
<line x1="1113" y1="911" x2="1113" y2="924.6" stroke="#000" stroke-width="4.8" stroke-linecap="butt"/>
<line x1="693.75" y1="791.25" x2="693.75" y2="840" stroke="#000" stroke-width="1.6" stroke-linecap="butt"/>
<line x1="685.0" y1="791.25" x2="702.5" y2="791.25" stroke="#000" stroke-width="1.6" stroke-linecap="butt"/>
<line x1="685.0" y1="840" x2="702.5" y2="840" stroke="#000" stroke-width="1.6" stroke-linecap="butt"/>
<line x1="748.4" y1="819.3" x2="748.4" y2="867.5" stroke="#000" stroke-width="1.6" stroke-linecap="butt"/>
<line x1="739.65" y1="819.3" x2="757.15" y2="819.3" stroke="#000" stroke-width="1.6" stroke-linecap="butt"/>
<line x1="739.65" y1="867.5" x2="757.15" y2="867.5" stroke="#000" stroke-width="1.6" stroke-linecap="butt"/>
<line x1="803.4" y1="680.2" x2="803.4" y2="745.6" stroke="#000" stroke-width="1.6" stroke-linecap="butt"/>
<line x1="794.65" y1="680.2" x2="812.15" y2="680.2" stroke="#000" stroke-width="1.6" stroke-linecap="butt"/>
<line x1="794.65" y1="745.6" x2="812.15" y2="745.6" stroke="#000" stroke-width="1.6" stroke-linecap="butt"/>
<line x1="858.1" y1="751.8" x2="858.1" y2="796.8" stroke="#000" stroke-width="1.6" stroke-linecap="butt"/>
<line x1="849.35" y1="751.8" x2="866.85" y2="751.8" stroke="#000" stroke-width="1.6" stroke-linecap="butt"/>
<line x1="849.35" y1="796.8" x2="866.85" y2="796.8" stroke="#000" stroke-width="1.6" stroke-linecap="butt"/>
<line x1="949.25" y1="782" x2="949.25" y2="811.75" stroke="#000" stroke-width="1.6" stroke-linecap="butt"/>
<line x1="940.5" y1="782" x2="958.0" y2="782" stroke="#000" stroke-width="1.6" stroke-linecap="butt"/>
<line x1="940.5" y1="811.75" x2="958.0" y2="811.75" stroke="#000" stroke-width="1.6" stroke-linecap="butt"/>
<line x1="1004.25" y1="834.5" x2="1004.25" y2="855.5" stroke="#000" stroke-width="1.6" stroke-linecap="butt"/>
<line x1="995.5" y1="834.5" x2="1013.0" y2="834.5" stroke="#000" stroke-width="1.6" stroke-linecap="butt"/>
<line x1="998.5" y1="855.5" x2="1013" y2="855.5" stroke="#000" stroke-width="1.6" stroke-linecap="butt"/>
<line x1="1058.75" y1="642" x2="1058.75" y2="716.25" stroke="#000" stroke-width="1.6" stroke-linecap="butt"/>
<line x1="1050.0" y1="642" x2="1067.5" y2="642" stroke="#000" stroke-width="1.6" stroke-linecap="butt"/>
<line x1="1050.0" y1="716.25" x2="1067.5" y2="716.25" stroke="#000" stroke-width="1.6" stroke-linecap="butt"/>
<line x1="1113.75" y1="749.5" x2="1113.75" y2="803" stroke="#000" stroke-width="1.6" stroke-linecap="butt"/>
<line x1="1105.0" y1="749.5" x2="1122.5" y2="749.5" stroke="#000" stroke-width="1.6" stroke-linecap="butt"/>
<line x1="1105.0" y1="803" x2="1122.5" y2="803" stroke="#000" stroke-width="1.6" stroke-linecap="butt"/>
<ellipse cx="681.75" cy="798.5" rx="6" ry="5.9" fill="#000"/>
<ellipse cx="706.25" cy="804.5" rx="6" ry="5.9" fill="#000"/>
<ellipse cx="693.75" cy="843.75" rx="6" ry="5.9" fill="#000"/>
<ellipse cx="748.4" cy="819.3" rx="6" ry="5.9" fill="#000"/>
<ellipse cx="748.4" cy="842.8" rx="6" ry="5.9" fill="#000"/>
<ellipse cx="748.4" cy="867.5" rx="6" ry="5.9" fill="#000"/>
<ellipse cx="803.4" cy="680.2" rx="6" ry="5.9" fill="#000"/>
<ellipse cx="803.4" cy="712.7" rx="6" ry="5.9" fill="#000"/>
<ellipse cx="803.4" cy="745.6" rx="6" ry="5.9" fill="#000"/>
<ellipse cx="858.1" cy="748.2" rx="6" ry="5.9" fill="#000"/>
<ellipse cx="858.1" cy="784.0" rx="6" ry="5.9" fill="#000"/>
<ellipse cx="858.1" cy="791.4" rx="6" ry="5.9" fill="#000"/>
<ellipse cx="949.25" cy="781.25" rx="6" ry="5.9" fill="#000"/>
<ellipse cx="949.25" cy="798" rx="6" ry="5.9" fill="#000"/>
<ellipse cx="949.25" cy="810.75" rx="6" ry="5.9" fill="#000"/>
<ellipse cx="1004.25" cy="834.5" rx="6" ry="5.9" fill="#000"/>
<ellipse cx="1016.75" cy="846.25" rx="6" ry="5.9" fill="#000"/>
<ellipse cx="991.75" cy="855.5" rx="6" ry="5.9" fill="#000"/>
<ellipse cx="1058.75" cy="642" rx="6" ry="5.9" fill="#000"/>
<ellipse cx="1058.75" cy="680.75" rx="6" ry="5.9" fill="#000"/>
<ellipse cx="1058.75" cy="716.25" rx="6" ry="5.9" fill="#000"/>
<ellipse cx="1113.75" cy="745" rx="6" ry="5.9" fill="#000"/>
<ellipse cx="1113.75" cy="787.5" rx="6" ry="5.9" fill="#000"/>
<ellipse cx="1113.75" cy="795.75" rx="6" ry="5.9" fill="#000"/>
<text x="749.1" y="801.05" font-size="26.5" text-anchor="middle" fill="#000" stroke="#000" stroke-width="0.45" stroke-linejoin="round" >*</text>
<text x="857" y="732.05" font-size="26.5" text-anchor="middle" fill="#000" stroke="#000" stroke-width="0.45" stroke-linejoin="round" >*</text>
<text x="948.75" y="762.65" font-size="26.5" text-anchor="middle" fill="#000" stroke="#000" stroke-width="0.45" stroke-linejoin="round" >*</text>
<text x="1112.5" y="731.25" font-size="26.5" text-anchor="middle" fill="#000" stroke="#000" stroke-width="0.45" stroke-linejoin="round" >*</text>
<text x="752.0" y="600" font-size="19.5" text-anchor="start" fill="#000" font-weight="bold" textLength="57.2" lengthAdjust="spacingAndGlyphs" >p-Y21</text>
<text x="985.0" y="600" font-size="19.5" text-anchor="start" fill="#000" font-weight="bold" textLength="71.0" lengthAdjust="spacingAndGlyphs" >p-Y359</text>
<text x="575.1" y="763.4" font-size="20.4" text-anchor="middle" fill="#000" font-weight="bold" textLength="308.5" lengthAdjust="spacingAndGlyphs" transform="rotate(-90 575.1 763.4)" >Phospho band 3 / band 3 ratio</text>
<text x="600.8" y="763" font-size="20.4" text-anchor="middle" fill="#000" font-weight="bold" textLength="273" lengthAdjust="spacingAndGlyphs" transform="rotate(-90 600.8 763)" >(fold change over 0d RBC)</text>
<text x="700.5" y="943" font-size="20.6" text-anchor="end" fill="#000" font-weight="bold" textLength="80.6" lengthAdjust="spacingAndGlyphs" transform="rotate(-45 700.5 943)" >7d-Con</text>
<text x="755.75" y="943" font-size="20.6" text-anchor="end" fill="#000" font-weight="bold" textLength="141" lengthAdjust="spacingAndGlyphs" transform="rotate(-45 755.75 943)" >7d-Curcumin</text>
<text x="810.5" y="943" font-size="20.6" text-anchor="end" fill="#000" font-weight="bold" textLength="91.6" lengthAdjust="spacingAndGlyphs" transform="rotate(-45 810.5 943)" >14d-Con</text>
<text x="865.0" y="943" font-size="20.6" text-anchor="end" fill="#000" font-weight="bold" textLength="151.3" lengthAdjust="spacingAndGlyphs" transform="rotate(-45 865.0 943)" >14d-Curcumin</text>
<text x="956.25" y="943" font-size="20.6" text-anchor="end" fill="#000" font-weight="bold" textLength="80.6" lengthAdjust="spacingAndGlyphs" transform="rotate(-45 956.25 943)" >7d-Con</text>
<text x="1011.25" y="943" font-size="20.6" text-anchor="end" fill="#000" font-weight="bold" textLength="141" lengthAdjust="spacingAndGlyphs" transform="rotate(-45 1011.25 943)" >7d-Curcumin</text>
<text x="1065.5" y="943" font-size="20.6" text-anchor="end" fill="#000" font-weight="bold" textLength="91.6" lengthAdjust="spacingAndGlyphs" transform="rotate(-45 1065.5 943)" >14d-Con</text>
<text x="1120.5" y="943" font-size="20.6" text-anchor="end" fill="#000" font-weight="bold" textLength="151.3" lengthAdjust="spacingAndGlyphs" transform="rotate(-45 1120.5 943)" >14d-Curcumin</text>
</g>
</g>
</svg></body></html>
